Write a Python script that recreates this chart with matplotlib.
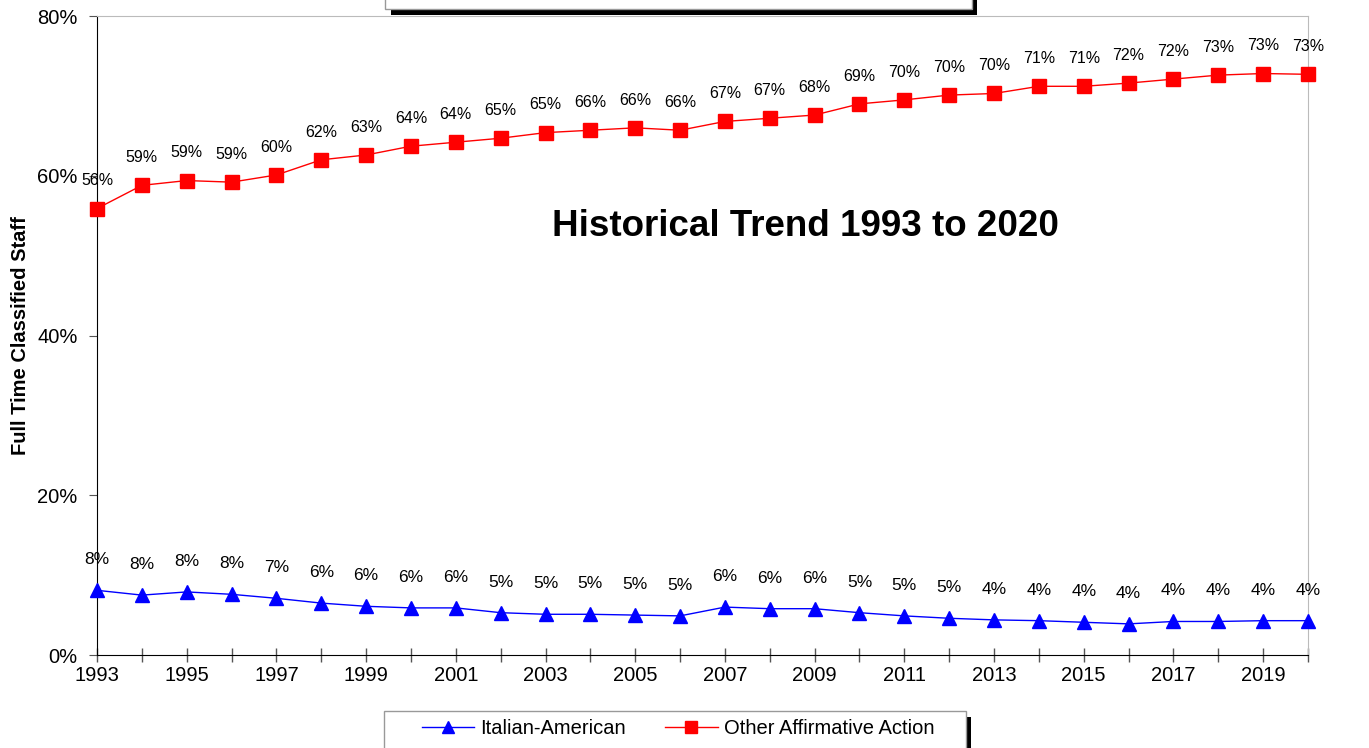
import numpy as np
import matplotlib.pyplot as plt
from matplotlib.patches import Rectangle

plt.rcParams['font.family'] = ['Liberation Sans', 'DejaVu Sans']

years = list(range(1993, 2021))
italian = [8.1, 7.5, 7.9, 7.6, 7.1, 6.5, 6.1, 5.9, 5.9, 5.3, 5.1, 5.1, 5.0, 4.9,
           6.0, 5.8, 5.8, 5.3, 4.9, 4.6, 4.4, 4.3, 4.1, 3.9, 4.2, 4.2, 4.3, 4.3]
other = [55.9, 58.8, 59.4, 59.2, 60.1, 62.0, 62.6, 63.7, 64.2, 64.7, 65.4, 65.7, 66.0, 65.7,
         66.8, 67.2, 67.6, 69.0, 69.5, 70.1, 70.3, 71.2, 71.2, 71.6, 72.1, 72.6, 72.8, 72.7]

fig = plt.figure(figsize=(13.69, 7.48), dpi=100)
ax = fig.add_axes([0.0709, 0.1243, 0.8845, 0.8543])

ax.plot(years, italian, color='blue', lw=1, marker='^', ms=10, label='Italian-American',
        clip_on=False, zorder=3)
ax.plot(years, other, color='red', lw=1, marker='s', ms=10, label='Other Affirmative Action',
        clip_on=False, zorder=3)

for x, v in zip(years, italian):
    ax.annotate(f'{round(v):.0f}%', (x, v), xytext=(0, 22), textcoords='offset points',
                ha='center', va='center', fontsize=12.5, annotation_clip=False)
for x, v in zip(years, other):
    ax.annotate(f'{round(v):.0f}%', (x, v), xytext=(0, 20), textcoords='offset points',
                ha='center', va='center', fontsize=11.5, annotation_clip=False)

ax.set_xlim(1993, 2020)
ax.set_ylim(0, 80)
ax.set_xticks(years, minor=True)
ax.set_xticks(range(1993, 2021, 2))
ax.tick_params(axis='x', which='both', direction='inout', length=10, width=1, color='#555555',
               labelsize=14.5, pad=3)
ax.set_yticks([0, 20, 40, 60, 80])
ax.set_yticklabels(['0%', '20%', '40%', '60%', '80%'])
ax.tick_params(axis='y', direction='out', length=6, color='#555555', labelsize=14.5, pad=8)
for s in ['top', 'right']:
    ax.spines[s].set_color('#bbbbbb')
ax.set_ylabel('Full Time Classified Staff', fontsize=14.5, fontweight='bold', labelpad=5)

ax.text(2008.8, 53.6, 'Historical Trend 1993 to 2020', fontsize=26.5, fontweight='bold',
        ha='center', va='center')

# top title box remnant with shadow
fig.patches.append(Rectangle((391 / 1369, 1 - 15 / 748), 586 / 1369, 20 / 748,
                             transform=fig.transFigure, fc='black', ec='none', zorder=0))
fig.patches.append(Rectangle((385 / 1369, 1 - 9 / 748), 587 / 1369, 20 / 748,
                             transform=fig.transFigure, fc='white', ec='#999999', lw=1, zorder=1))

# legend box with shadow
fig.patches.append(Rectangle((390 / 1369, -0.01), 581 / 1369, 1 - 717 / 748 + 0.01,
                             transform=fig.transFigure, fc='black', ec='none', zorder=0))
fig.patches.append(Rectangle((384 / 1369, -0.02), 582 / 1369, 1 - 711 / 748 + 0.02,
                             transform=fig.transFigure, fc='white', ec='#999999', lw=1, zorder=1))
fig.legend(loc='center', bbox_to_anchor=(678 / 1369, 1 - 729 / 748), ncol=2, frameon=False,
           fontsize=14.5, handlelength=2.6, handletextpad=0.3, columnspacing=1.95,
           markerscale=0.8)

plt.savefig('out.png', dpi=100)
